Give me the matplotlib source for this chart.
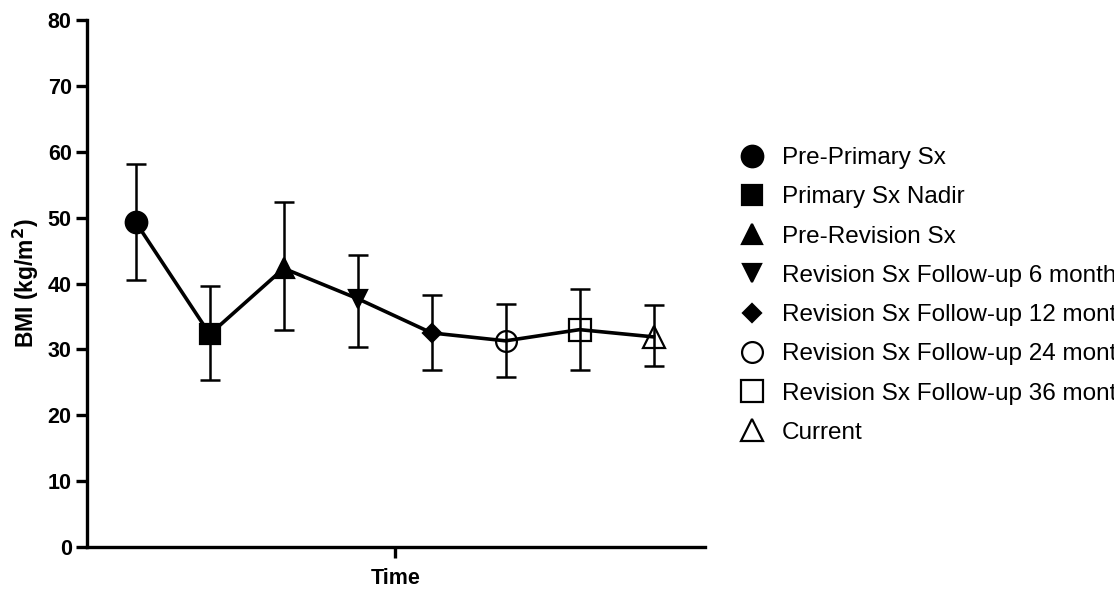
import matplotlib
matplotlib.use("Agg")
import matplotlib.pyplot as plt
import numpy as np

# values (mean, lower bar, upper bar)
labels = ["Pre-Primary Sx", "Primary Sx Nadir", "Pre-Revision Sx",
          "Revision Sx Follow-up 6 months", "Revision Sx Follow-up 12 months",
          "Revision Sx Follow-up 24 months", "Revision Sx Follow-up 36 months",
          "Current"]
bmi = [49.3, 32.3, 42.3, 37.7, 32.5, 31.3, 33.0, 31.9]
bmi_low = [40.5, 25.3, 33.0, 30.4, 26.9, 25.8, 26.9, 27.5]
bmi_high = [58.2, 39.6, 52.4, 44.4, 38.2, 36.9, 39.1, 36.7]

markers = ["o", "s", "^", "v", "D", "o", "s", "^"]
filled = [True, True, True, True, True, False, False, False]
msizes = [15.5, 14.5, 14.0, 13.5, 9.5, 15.0, 15.5, 15.5]

plt.rcParams['font.family'] = ['Liberation Sans', 'DejaVu Sans']

fig = plt.figure(figsize=(11.14, 5.91), dpi=100)
ax = fig.add_axes([0.0781, 0.0745, 0.555, 0.8915])

x = np.arange(len(bmi))
ax.plot(x, bmi, color='black', lw=2.6, zorder=2)

yerr = [np.array(bmi) - np.array(bmi_low), np.array(bmi_high) - np.array(bmi)]
ax.errorbar(x, bmi, yerr=yerr, fmt='none', ecolor='black', elinewidth=1.8,
            capsize=7, capthick=1.8, zorder=1)

handles = []
for i in range(len(bmi)):
    fc = 'black' if filled[i] else 'none'
    h, = ax.plot(x[i], bmi[i], linestyle='none', marker=markers[i], ms=msizes[i],
                 mfc=fc, mec='black', mew=1.6, label=labels[i], zorder=3)
    handles.append(h)

ax.set_xlim(-0.66, 7.7)
ax.set_ylim(0, 80)
ax.set_yticks(range(0, 81, 10))
ax.set_xticks([3.5])
ax.set_xticklabels([""])
ax.set_xlabel("Time", fontsize=15.5, fontweight='bold', labelpad=4)
ax.set_ylabel("BMI (kg/m$^\\mathbf{2}$)", fontsize=16.5, fontweight='bold', labelpad=5)

for s in ['top', 'right']:
    ax.spines[s].set_visible(False)
for s in ['left', 'bottom']:
    ax.spines[s].set_linewidth(2.4)
ax.tick_params(axis='both', width=2.4, length=8, labelsize=15.5, pad=3)
for t in ax.get_yticklabels():
    t.set_fontweight('bold')

# legend runs off the right edge, as in the source figure
fig.legend(handles=handles, loc='center left', bbox_to_anchor=(0.664, 0.5),
           frameon=False, fontsize=17.5, handlelength=1.0, handletextpad=0.75,
           labelspacing=0.71, borderpad=0, borderaxespad=0, numpoints=1)

fig.savefig("out.png", dpi=100)
